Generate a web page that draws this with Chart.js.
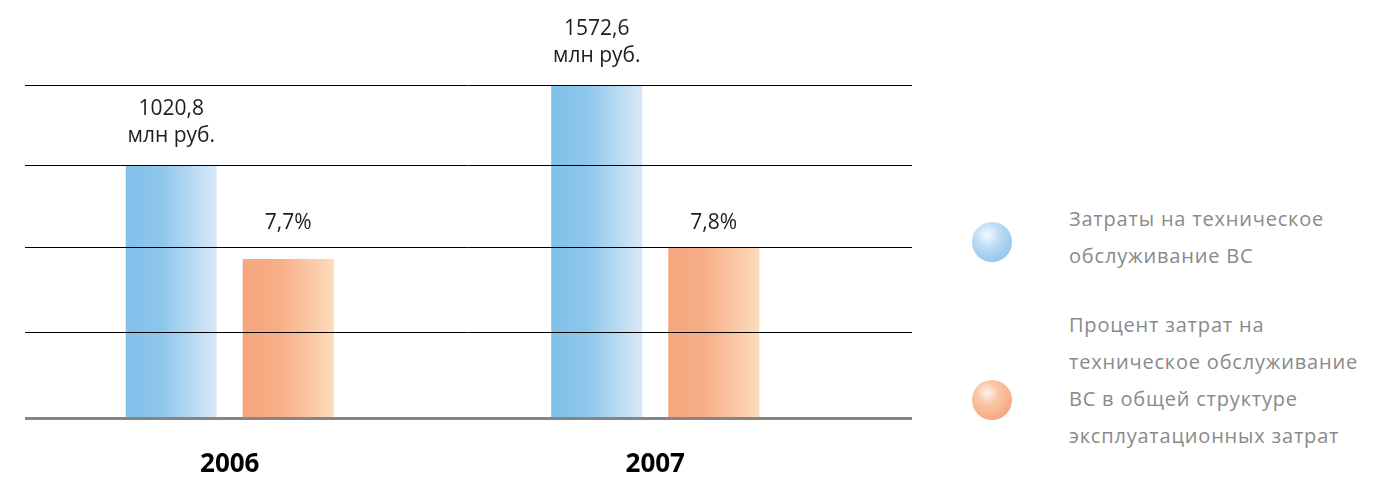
<!DOCTYPE html>
<html>
<head>
<meta charset="utf-8">
<script src="https://cdn.jsdelivr.net/npm/chart.js@4.4.1/dist/chart.umd.min.js"></script>
<style>
    html, body { margin: 0; padding: 0; background: #fff; }
    #wrap { position: relative; width: 1375px; height: 477px; overflow: hidden; }
    #chartBox { position: absolute; left: 0; top: 0; width: 940px; height: 477px; }
    .dot { position: absolute; width: 40px; height: 40px; border-radius: 50%; }
    .legendText {
        position: absolute; left: 1069px; white-space: nowrap;
        font-family: 'Open Sans', sans-serif; font-size: 20px; line-height: 37px;
        letter-spacing: 0.8px; color: #8a8a8a;
    }
</style>
</head>
<body>
<div id="wrap">
    <div id="chartBox"><canvas id="maintChart"></canvas></div>
    <div class="dot" style="left:972px;top:222px;background:radial-gradient(circle at 38% 32%, #f5faff 0%, #c2dff5 30%, #94c7eb 75%, #8cc2ea 100%);"></div>
    <div class="legendText" style="top:200px;">Затраты на техническое<br>обслуживание ВС</div>
    <div class="dot" style="left:972px;top:380px;background:radial-gradient(circle at 38% 32%, #fff3ea 0%, #fac6a6 30%, #f6a97f 75%, #f4a278 100%);"></div>
    <div class="legendText" style="top:306px;">Процент затрат на<br>техническое обслуживание<br>ВС в общей структуре<br>эксплуатационных затрат</div>
</div>
<script>
// годы
const years = ['2006', '2007'];

// подписи над столбиками (значения из исходника)
const costLabels = [['1020,8', 'млн руб.'], ['1572,6', 'млн руб.']];
const shareLabels = [['7,7%'], ['7,8%']];

// высоты столбиков так, как они нарисованы (исходная диаграмма не в масштабе)
const costHeight = [253, 333];
const shareHeight = [159, 171];

// уровни горизонтальных линий сетки в тех же единицах
const gridLevels = [86, 171, 253, 333];

const CAT_PCT = 0.55;
const BAR_PCT = 0.778;

// градиент слева направо для каждого столбика
function barGradient(stops) {
    return function(ctx) {
        const chart = ctx.chart;
        const xs = chart.scales.x;
        if (!chart.chartArea || !xs) return stops[0][1];
        const cat = xs.width / years.length;
        const slot = cat * CAT_PCT / 2;
        const w = slot * BAR_PCT;
        const center = xs.getPixelForValue(ctx.dataIndex) + (ctx.datasetIndex - 0.5) * slot;
        const g = chart.ctx.createLinearGradient(center - w / 2, 0, center + w / 2, 0);
        stops.forEach(s => g.addColorStop(s[0], s[1]));
        return g;
    };
}

// линии сетки и ось поверх столбиков
const gridPlugin = {
    id: 'gridOver',
    afterDatasetsDraw(chart) {
        const c = chart.ctx;
        const y = chart.scales.y;
        c.save();
        c.strokeStyle = '#000';
        c.lineWidth = 1;
        gridLevels.forEach(v => {
            const py = Math.round(y.getPixelForValue(v)) + 0.5;
            c.beginPath();
            c.moveTo(25, py);
            c.lineTo(912, py);
            c.stroke();
        });
        c.strokeStyle = '#858585';
        c.lineWidth = 3;
        const p0 = y.getPixelForValue(0) + 0.5;
        c.beginPath();
        c.moveTo(25, p0);
        c.lineTo(912, p0);
        c.stroke();
        c.restore();
    }
};

// подписи значений
const labelPlugin = {
    id: 'valueLabels',
    afterDraw(chart) {
        const c = chart.ctx;
        c.save();
        c.font = '21px "Open Sans", sans-serif';
        c.fillStyle = '#1e1e1e';
        c.textAlign = 'center';
        c.textBaseline = 'alphabetic';
        // затраты: над каждым столбиком
        chart.getDatasetMeta(0).data.forEach((bar, i) => {
            const lines = costLabels[i];
            lines.forEach((t, k) => {
                c.fillText(t, bar.x, bar.y - 23 - (lines.length - 1 - k) * 27);
            });
        });
        // проценты: на одном уровне, над самым высоким
        const meta1 = chart.getDatasetMeta(1).data;
        const topY = Math.min(...meta1.map(b => b.y));
        meta1.forEach((bar, i) => {
            c.fillText(shareLabels[i][0], bar.x, topY - 18);
        });
        c.restore();
    }
};

const ctx = document.getElementById('maintChart').getContext('2d');
new Chart(ctx, {
    type: 'bar',
    data: {
        labels: years,
        datasets: [
            {
                label: 'Затраты на техническое обслуживание ВС',
                data: costHeight,
                backgroundColor: barGradient([[0, '#80c0e9'], [0.4, '#8fc7ec'], [1, '#d9e9f7']]),
                borderWidth: 0,
                categoryPercentage: CAT_PCT,
                barPercentage: BAR_PCT
            },
            {
                label: 'Процент затрат на техническое обслуживание ВС в общей структуре эксплуатационных затрат',
                data: shareHeight,
                backgroundColor: barGradient([[0, '#f5a67d'], [0.4, '#f7ae86'], [1, '#fddbbd']]),
                borderWidth: 0,
                categoryPercentage: CAT_PCT,
                barPercentage: BAR_PCT
            }
        ]
    },
    options: {
        responsive: true,
        maintainAspectRatio: false,
        animation: false,
        layout: {
            padding: { top: 85, left: 17, right: 72, bottom: 0 }
        },
        plugins: {
            legend: { display: false },
            tooltip: { enabled: false }
        },
        scales: {
            x: {
                grid: { display: false, drawTicks: false },
                border: { display: false },
                afterFit: function(scale) { scale.height = 59; },
                ticks: {
                    padding: 31,
                    color: '#000',
                    font: { family: 'Open Sans', size: 26, weight: 'bold' }
                }
            },
            y: {
                display: false,
                min: 0,
                max: 333
            }
        }
    },
    plugins: [gridPlugin, labelPlugin]
});
</script>
</body>
</html>
